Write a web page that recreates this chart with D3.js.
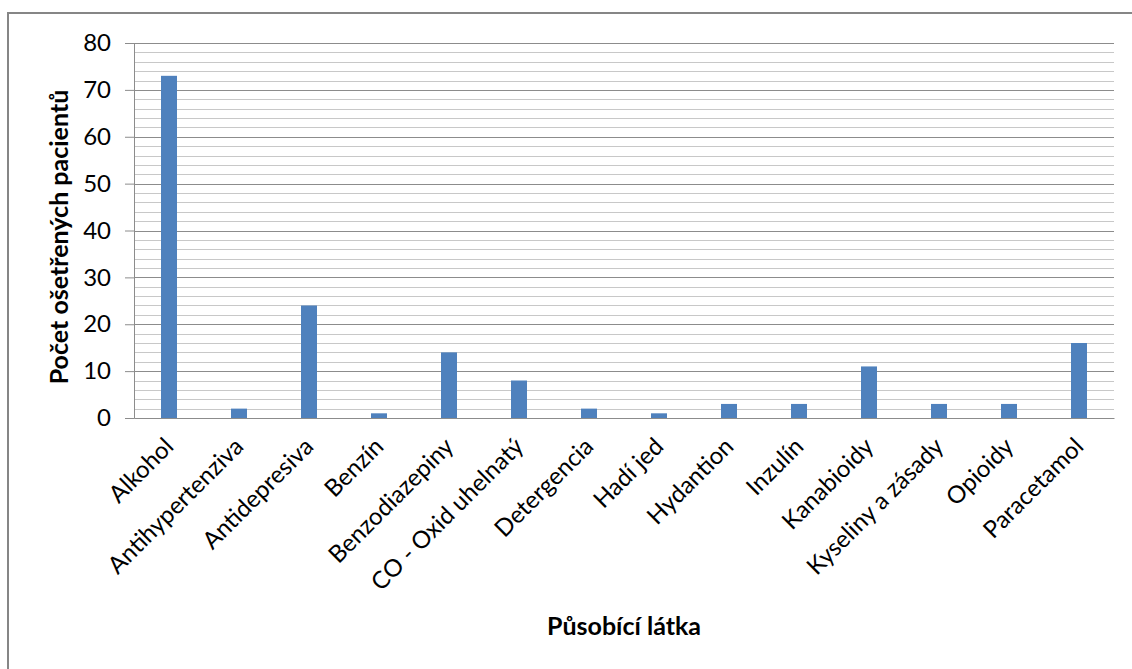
<!DOCTYPE html>
<html><head><meta charset="utf-8">
<script src="https://cdn.jsdelivr.net/npm/d3@7"></script>
<style>body{margin:0;background:#fff;} text{font-family:Lato,"Open Sans",sans-serif;fill:#000;}</style>
</head><body><svg id="c" width="1132" height="669"></svg>
<script>
const categories = ["Alkohol","Antihypertenziva","Antidepresiva","Benzín","Benzodiazepiny","CO - Oxid uhelnatý","Detergencia","Hadí jed","Hydantion","Inzulín","Kanabioidy","Kyseliny a zásady","Opioidy","Paracetamol"];
const values = [73,2,24,1,14,8,2,1,3,3,11,3,3,16];
const yTicks = [0,10,20,30,40,50,60,70,80];
const yMinor = [2,4,6,8,12,14,16,18,22,24,26,28,32,34,36,38,42,44,46,48,52,54,56,58,62,64,66,68,72,74,76,78];
const xTitle = "Působící látka";
const yTitle = "Počet ošetřených pacientů";

const svg = d3.select("#c");
const L = 134, R = 1114, T = 43, B = 418;
// frame
svg.append("rect").attr("x",8).attr("y",13).attr("width",1140).attr("height",700)
  .attr("fill","none").attr("stroke","#868686").attr("stroke-width",2);

const x = d3.scaleBand().domain(categories).range([L,R]).paddingInner(0).paddingOuter(0);
const y = d3.scaleLinear().domain([0,80]).range([B,T]);

// minor grid
svg.append("g").selectAll("line").data(yMinor).join("line")
  .attr("x1",L).attr("x2",R).attr("y1",d=>Math.round(y(d))+0.5).attr("y2",d=>Math.round(y(d))+0.5)
  .attr("stroke","#c8c8c8").attr("stroke-width",1);
// major grid
svg.append("g").selectAll("line").data(yTicks.filter(d=>d>0)).join("line")
  .attr("x1",L).attr("x2",R).attr("y1",d=>Math.round(y(d))+0.5).attr("y2",d=>Math.round(y(d))+0.5)
  .attr("stroke","#8c8c8c").attr("stroke-width",1);

// y axis
const yAxis = svg.append("g").attr("transform",`translate(${L},0)`)
  .call(d3.axisLeft(y).tickValues(yTicks).tickSize(9).tickPadding(14));
yAxis.select(".domain").attr("stroke","#8c8c8c");
yAxis.selectAll(".tick line").attr("stroke","#8c8c8c");
yAxis.selectAll(".tick text").style("font-size","24px").style("font-family","Lato, sans-serif").attr("fill","#000");

// bars
const bw = 16;
svg.append("g").selectAll("rect").data(categories).join("rect")
  .attr("x",(d)=>x(d)+x.bandwidth()/2-bw/2).attr("width",bw)
  .attr("y",(d,i)=>y(values[i])).attr("height",(d,i)=>y(0)-y(values[i]))
  .attr("fill","#4f81bd");

// x axis
const xAxis = svg.append("g").attr("transform",`translate(0,${B})`)
  .call(d3.axisBottom(x).tickSize(0).tickPadding(0));
xAxis.select(".domain").attr("stroke","#8c8c8c");
xAxis.selectAll(".tick text")
  .style("font-size","24px").style("font-family","Lato, sans-serif").attr("fill","#000")
  .attr("text-anchor","end").attr("dy",0).attr("y",0)
  .attr("transform","translate(6,30) rotate(-45)");

// titles
svg.append("text").attr("x",624).attr("y",635).attr("text-anchor","middle")
  .style("font-size","25px").style("font-weight","bold").text(xTitle);
svg.append("text").attr("transform","translate(68,237) rotate(-90)").attr("text-anchor","middle")
  .style("font-size","25px").style("font-weight","bold").text(yTitle);
</script></body></html>
